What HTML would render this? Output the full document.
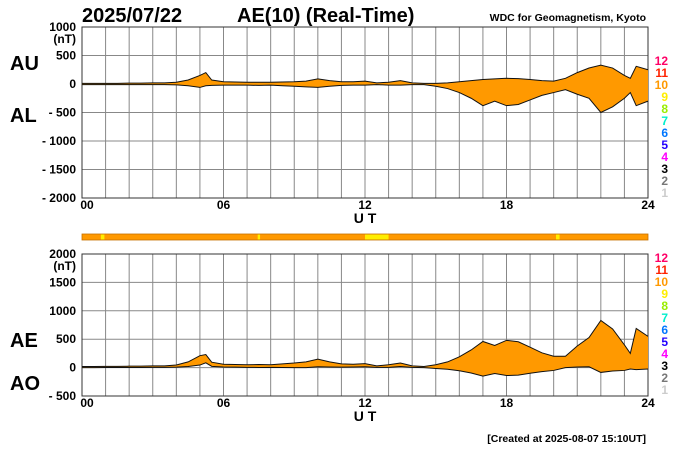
<!DOCTYPE html>
<html><head><meta charset="utf-8"><style>
body{margin:0;background:#fff;width:700px;height:450px;overflow:hidden}
svg{display:block;font-family:"Liberation Sans",Arial,sans-serif}
</style></head><body>
<svg id="c" width="700" height="450" viewBox="0 0 700 450">
<text x="82" y="22" font-size="20" font-weight="bold">2025/07/22</text>
<text x="237" y="22" font-size="20" font-weight="bold">AE(10) (Real-Time)</text>
<text x="646" y="21" font-size="10.5" font-weight="bold" text-anchor="end">WDC for Geomagnetism, Kyoto</text>
<text x="10" y="70" font-size="20" font-weight="bold">AU</text>
<text x="10" y="122" font-size="20" font-weight="bold">AL</text>
<text x="10" y="347" font-size="20" font-weight="bold">AE</text>
<text x="10" y="390" font-size="20" font-weight="bold">AO</text>
<text x="365" y="223" font-size="14" font-weight="bold" text-anchor="middle">U T</text>
<text x="365" y="421" font-size="14" font-weight="bold" text-anchor="middle">U T</text>
<text x="646" y="442" font-size="10.5" font-weight="bold" text-anchor="end">[Created at 2025-08-07 15:10UT]</text>
<g id="g"></g>
</svg>
<script>
const hours=[0,0.5,1,1.5,2,2.5,3,3.5,4,4.5,5,5.25,5.5,6,6.5,7,7.5,8,8.5,9,9.5,10,10.5,11,11.5,12,12.5,13,13.5,14,14.5,15,15.5,16,16.5,17,17.5,18,18.5,19,19.5,20,20.5,21,21.5,22,22.5,23,23.25,23.5,24];
const auValues=[10,10,12,12,15,15,20,20,30,70,150,200,70,40,35,30,30,30,35,40,50,90,60,40,40,50,20,30,60,20,10,10,20,40,60,80,90,100,95,80,60,50,100,200,280,330,280,150,100,310,250];
const alValues=[-10,-10,-10,-10,-10,-10,-10,-10,-15,-30,-60,-30,-25,-20,-20,-20,-25,-20,-30,-40,-50,-60,-40,-25,-20,-20,-10,-20,-20,-10,-10,-40,-80,-150,-250,-380,-300,-380,-360,-280,-200,-150,-100,-180,-250,-500,-400,-250,-150,-380,-300];
const yTop=[1000,500,0,-500,-1000,-1500,-2000];
const yTopLabels=["1000","500","0","- 500","- 1000","- 1500","- 2000"];
const yBot=[2000,1500,1000,500,0,-500];
const yBotLabels=["2000","1500","1000","500","0","- 500"];
const xTickLabels=["00","06","12","18","24"];
const yellowSpans=[[0.8,0.95],[7.45,7.55],[12,13],[20.1,20.25]];
const legendNums=["12","11","10","9","8","7","6","5","4","3","2","1"];
const legendColors=["#ff0066","#ff2200","#ff9900","#ffee00","#99ee00","#00eecc","#0077ff","#2200ff","#ff00ff","#000000","#777777","#cccccc"];

const NS="http://www.w3.org/2000/svg",g=document.getElementById('g');
function mk(t,a,p){const e=document.createElementNS(NS,t);for(const k in a)e.setAttribute(k,a[k]);(p||g).appendChild(e);return e;}
const X0=82,X1=648;
const xs=h=>X0+(X1-X0)*h/24;
const yT=v=>27+(1000-v)*(198-27)/3000;
const yB=v=>254+(2000-v)*(396-254)/2500;
function grid(y0,y1,ticks,labels,yf,name){
  mk('rect',{x:X0,y:y0,width:X1-X0,height:y1-y0,fill:'#fff'});
  for(let h=1;h<24;h++){const l=mk('line',{x1:xs(h),x2:xs(h),y1:y0,y2:y1,stroke:'#888','stroke-width':1});
  
  }
  ticks.forEach((v,i)=>{const l=mk('line',{x1:X0,x2:X1,y1:yf(v),y2:yf(v),stroke:'#888','stroke-width':1});
    
    
    const t=mk('text',{x:76,y:yf(v)+4,'font-size':12,'font-weight':'bold','text-anchor':'end'});t.textContent=labels[i];
    
    });
  const u=mk('text',{x:76,y:yf(ticks[0])+16,'font-size':12,'font-weight':'bold','text-anchor':'end'});u.textContent='(nT)';
  
  
  xTickLabels.forEach((s,i)=>{const t=mk('text',{x:xs(i*6)+(i==0?5:0),y:y1+11,'font-size':12,'font-weight':'bold','text-anchor':'middle'});t.textContent=s;
    
    });
  mk('rect',{x:X0,y:y0,width:X1-X0,height:y1-y0,fill:'none',stroke:'#333','stroke-width':1});
}
function band(up,lo,yf,name){
  let d='M'+hours.map((h,i)=>xs(h)+','+yf(up[i])).join('L');
  for(let i=hours.length-1;i>=0;i--)d+='L'+xs(hours[i])+','+yf(lo[i]);
  const p=mk('path',{d:d+'Z',fill:'#ff9900'});
  
  
  [up,lo].forEach((arr,k)=>{const l=mk('polyline',{points:hours.map((h,i)=>xs(h)+','+yf(arr[i])).join(' '),fill:'none',stroke:'#111','stroke-width':1});
    
    });
}
function legend(y0){legendNums.forEach((n,i)=>{const t=mk('text',{x:668,y:y0+i*12,'font-size':12,'font-weight':'bold','text-anchor':'end',fill:legendColors[i]});t.textContent=n;
  
  });}
grid(27,198,yTop,yTopLabels,yT,'top-y');
band(auValues,alValues,yT,'au-al');
grid(254,396,yBot,yBotLabels,yB,'bottom-y');
const ae=auValues.map((u,i)=>u-alValues[i]),ao=auValues.map((u,i)=>(u+alValues[i])/2);
band(ae,ao,yB,'ae-ao');
legend(65);legend(262);
const bar=mk('rect',{x:X0,y:234,width:X1-X0,height:6,fill:'#ff9900',stroke:'#c77000','stroke-width':0.8});


yellowSpans.forEach(s=>{const r=mk('rect',{x:xs(s[0]),y:234.5,width:Math.max(2,xs(s[1])-xs(s[0])),height:5,fill:'#ffee00'});
  
  });
</script>
</body></html>
